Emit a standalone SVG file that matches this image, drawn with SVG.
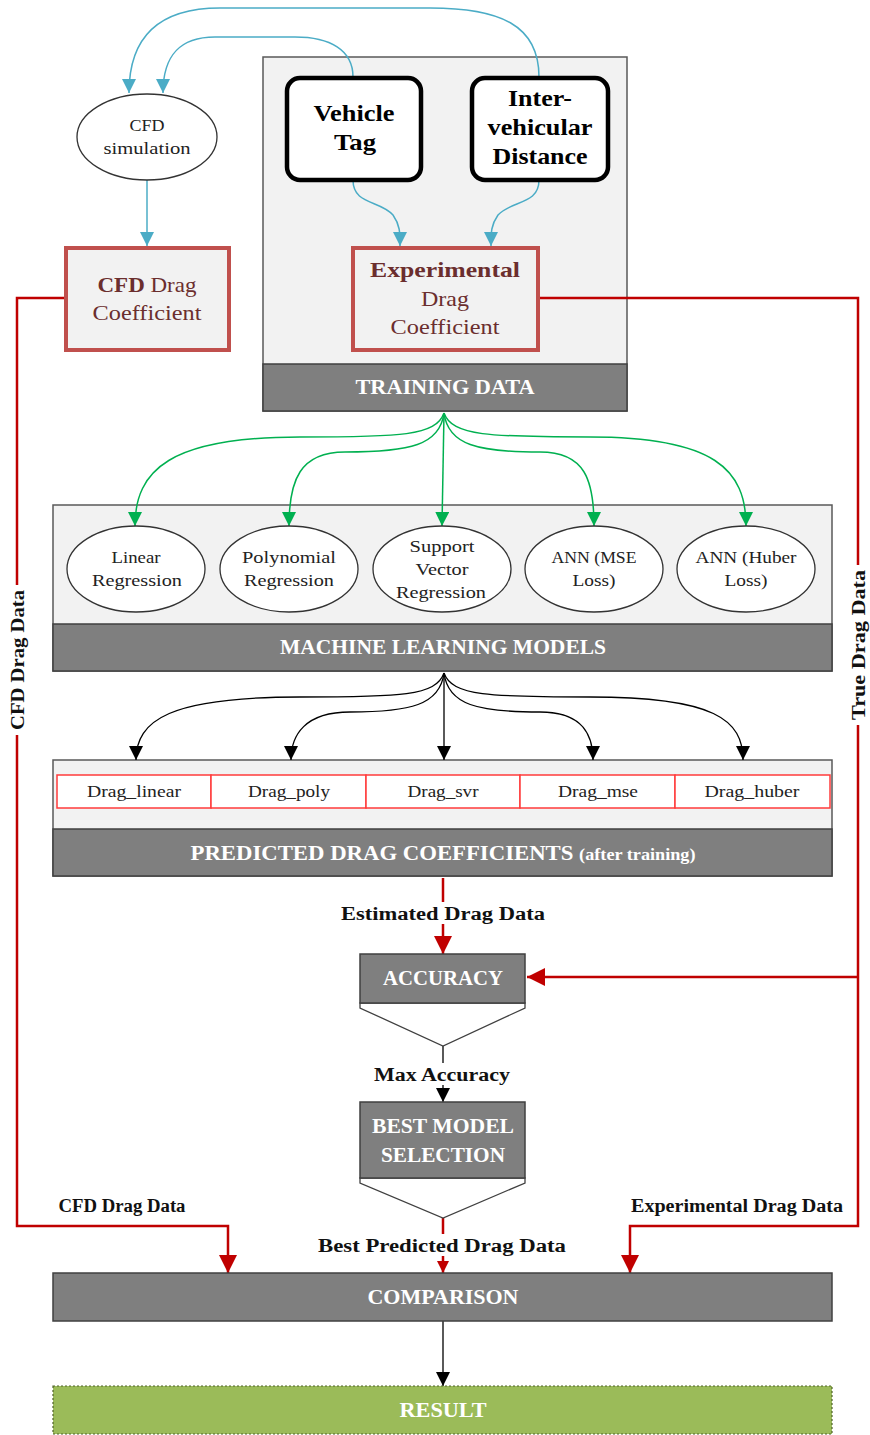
<svg xmlns="http://www.w3.org/2000/svg" width="870" height="1435" viewBox="0 0 870 1435">
<style>
.t{font-family:"Liberation Serif","DejaVu Serif",serif}
.hdr{font-family:"Liberation Serif",serif;font-weight:bold;fill:#fff;font-size:20px;text-anchor:middle}
.lbl{font-family:"Liberation Serif",serif;font-weight:bold;fill:#111;font-size:18px;text-anchor:middle}
.ell{fill:#fff;stroke:#333;stroke-width:1.3}
.eltx{font-family:"Liberation Serif",serif;font-size:17px;fill:#222;text-anchor:middle}
.panel{fill:#f2f2f2;stroke:#595959;stroke-width:1.5}
.band{fill:#7f7f7f;stroke:#404040;stroke-width:1.5}
.redbox{fill:#f2f2f2;stroke:#c0504d;stroke-width:4}
.blackbox{fill:#fff;stroke:#000;stroke-width:4.5}
.blue{fill:none;stroke:#4bacc6;stroke-width:1.5}
.green{fill:none;stroke:#00b050;stroke-width:1.5}
.blk{fill:none;stroke:#000;stroke-width:1.3}
.red{fill:none;stroke:#c00000;stroke-width:2.5}
.cell{fill:#fff;stroke:#ff3b3b;stroke-width:1.5}
.celltx{font-family:"Liberation Serif",serif;font-size:17px;fill:#222;text-anchor:middle}
</style>
<defs>
<marker id="ab" markerUnits="userSpaceOnUse" markerWidth="16" markerHeight="16" refX="14" refY="7" orient="auto"><path d="M0,0 L14,7 L0,14 Z" fill="#4bacc6"/></marker>
<marker id="ag" markerUnits="userSpaceOnUse" markerWidth="16" markerHeight="16" refX="14" refY="7" orient="auto"><path d="M0,0 L14,7 L0,14 Z" fill="#00b050"/></marker>
<marker id="ak" markerUnits="userSpaceOnUse" markerWidth="16" markerHeight="16" refX="14" refY="7" orient="auto"><path d="M0,0 L14,7 L0,14 Z" fill="#000"/></marker>
<marker id="ar" markerUnits="userSpaceOnUse" markerWidth="20" markerHeight="20" refX="18" refY="9" orient="auto"><path d="M0,0 L18,9 L0,18 Z" fill="#c00000"/></marker>
<marker id="ars" markerUnits="userSpaceOnUse" markerWidth="14" markerHeight="14" refX="12" refY="6" orient="auto"><path d="M0,0 L12,6 L0,12 Z" fill="#c00000"/></marker>
</defs>

<g id="training-data">
<rect class="panel" x="263" y="57" width="364" height="354"/>
<rect class="band" x="263" y="364" width="364" height="47"/>
<text class="hdr" x="445" y="394" textLength="179" lengthAdjust="spacingAndGlyphs">TRAINING DATA</text>
</g>

<g id="ml-models">
<rect class="panel" x="53" y="505" width="779" height="166"/>
<rect class="band" x="53" y="624" width="779" height="47"/>
<text class="hdr" x="443" y="654" textLength="326" lengthAdjust="spacingAndGlyphs">MACHINE LEARNING MODELS</text>
</g>

<g id="predicted">
<rect class="panel" x="53" y="760" width="779" height="116"/>
<rect class="band" x="53" y="829" width="779" height="47"/>
<text class="hdr" x="443" y="860" textLength="505" lengthAdjust="spacingAndGlyphs">PREDICTED DRAG COEFFICIENTS <tspan font-size="16">(after training)</tspan></text>
</g>

<g id="connectors">
<path class="blue" d="M539,77 C539,25 500,8 430,8 L220,8 C160,8 129,35 129,93" marker-end="url(#ab)"/>
<path class="blue" d="M353,77 C353,50 330,37 295,37 L215,37 C180,37 163,55 163,93" marker-end="url(#ab)"/>
<path class="blue" d="M147,180 L147,246" marker-end="url(#ab)"/>
<path class="blue" d="M353,180 C353,205 380,200 393,215 C400,225 400,232 400,246" marker-end="url(#ab)"/>
<path class="blue" d="M539,180 C539,205 512,200 498,215 C491,225 491,232 491,246" marker-end="url(#ab)"/>

<path class="green" d="M444,413 C436,436 400,437 300,437 C170,437 135,470 135,526" marker-end="url(#ag)"/>
<path class="green" d="M444,413 C440,445 410,452 345,452 C300,452 289,480 289,526" marker-end="url(#ag)"/>
<path class="green" d="M444,413 L442,526" marker-end="url(#ag)"/>
<path class="green" d="M444,413 C448,445 478,452 540,452 C585,452 594,480 594,526" marker-end="url(#ag)"/>
<path class="green" d="M444,413 C452,436 490,437 590,437 C715,437 746,470 746,526" marker-end="url(#ag)"/>

<path class="blk" d="M444,673 C436,696 400,697 300,697 C170,697 136,720 136,760" marker-end="url(#ak)"/>
<path class="blk" d="M444,673 C440,705 410,712 350,712 C305,712 291,735 291,760" marker-end="url(#ak)"/>
<path class="blk" d="M444,673 L444,760" marker-end="url(#ak)"/>
<path class="blk" d="M444,673 C448,705 478,712 540,712 C583,712 593,735 593,760" marker-end="url(#ak)"/>
<path class="blk" d="M444,673 C452,696 490,697 590,697 C715,697 743,720 743,760" marker-end="url(#ak)"/>

<path class="red" d="M443,878 L443,954" marker-end="url(#ar)"/>
<path class="red" d="M66,298 L17,298 L17,1226 L228,1226 L228,1273" marker-end="url(#ar)"/>
<path class="red" d="M538,298 L858,298 L858,1226 L630,1226 L630,1273" marker-end="url(#ar)"/>
<path class="red" d="M858,977 L527,977" marker-end="url(#ar)"/>
<path class="red" d="M443,1218 L443,1273" marker-end="url(#ars)"/>
<path class="blk" d="M443,1046 L443,1102" marker-end="url(#ak)"/>
<path class="blk" d="M443,1321 L443,1386" marker-end="url(#ak)"/>

<rect x="338" y="902" width="210" height="22" fill="#fff"/>
<text class="lbl" x="443" y="920" textLength="204" lengthAdjust="spacingAndGlyphs">Estimated Drag Data</text>
<rect x="372" y="1063" width="142" height="22" fill="#fff"/>
<text class="lbl" x="442" y="1081" textLength="136" lengthAdjust="spacingAndGlyphs">Max Accuracy</text>
<rect x="314" y="1234" width="256" height="22" fill="#fff"/>
<text class="lbl" x="442" y="1252" textLength="248" lengthAdjust="spacingAndGlyphs">Best Predicted Drag Data</text>
<text class="lbl" x="122" y="1212" font-size="17" textLength="127" lengthAdjust="spacingAndGlyphs">CFD Drag Data</text>
<text class="lbl" x="737" y="1212" font-size="17" textLength="212" lengthAdjust="spacingAndGlyphs">Experimental Drag Data</text>
<rect x="8" y="585" width="20" height="150" fill="#fff"/>
<text class="lbl" transform="translate(24,660) rotate(-90)" font-size="17" textLength="140" lengthAdjust="spacingAndGlyphs">CFD Drag Data</text>
<rect x="848" y="565" width="20" height="160" fill="#fff"/>
<text class="lbl" transform="translate(865,645) rotate(-90)" font-size="17" textLength="150" lengthAdjust="spacingAndGlyphs">True Drag Data</text>
</g>

<g id="cfd-simulation">
<ellipse class="ell" cx="147" cy="137" rx="70" ry="43"/>
<text class="eltx" x="147" y="131" textLength="35" lengthAdjust="spacingAndGlyphs">CFD</text>
<text class="eltx" x="147" y="154" textLength="87" lengthAdjust="spacingAndGlyphs">simulation</text>
</g>

<g id="cfd-drag-coefficient">
<rect class="redbox" x="66" y="248" width="163" height="102"/>
<text class="t" x="147" y="292" font-size="22" fill="#6b2e2e" text-anchor="middle" textLength="99" lengthAdjust="spacingAndGlyphs"><tspan font-weight="bold">CFD</tspan> Drag</text>
<text class="t" x="147" y="320" font-size="22" fill="#6b2e2e" text-anchor="middle" textLength="109" lengthAdjust="spacingAndGlyphs">Coefficient</text>
</g>

<g id="vehicle-tag">
<rect class="blackbox" x="287" y="78" width="134" height="102" rx="13"/>
<text class="t" x="354" y="121" font-size="24" font-weight="bold" text-anchor="middle" fill="#000" textLength="81" lengthAdjust="spacingAndGlyphs">Vehicle</text>
<text class="t" x="355" y="150" font-size="24" font-weight="bold" text-anchor="middle" fill="#000" textLength="42" lengthAdjust="spacingAndGlyphs">Tag</text>
</g>

<g id="inter-vehicular-distance">
<rect class="blackbox" x="472" y="78" width="136" height="102" rx="13"/>
<text class="t" x="540" y="106" font-size="24" font-weight="bold" text-anchor="middle" fill="#000" textLength="64" lengthAdjust="spacingAndGlyphs">Inter-</text>
<text class="t" x="540" y="135" font-size="24" font-weight="bold" text-anchor="middle" fill="#000" textLength="105" lengthAdjust="spacingAndGlyphs">vehicular</text>
<text class="t" x="540" y="164" font-size="24" font-weight="bold" text-anchor="middle" fill="#000" textLength="95" lengthAdjust="spacingAndGlyphs">Distance</text>
</g>

<g id="experimental-drag-coefficient">
<rect class="redbox" x="353" y="248" width="185" height="102"/>
<text class="t" x="445" y="277" font-size="22" font-weight="bold" fill="#6b2e2e" text-anchor="middle" textLength="150" lengthAdjust="spacingAndGlyphs">Experimental</text>
<text class="t" x="445" y="306" font-size="22" fill="#6b2e2e" text-anchor="middle" textLength="48" lengthAdjust="spacingAndGlyphs">Drag</text>
<text class="t" x="445" y="334" font-size="22" fill="#6b2e2e" text-anchor="middle" textLength="109" lengthAdjust="spacingAndGlyphs">Coefficient</text>
</g>

<g id="linear-regression">
<ellipse class="ell" cx="136" cy="569" rx="69" ry="43"/>
<text class="eltx" x="136" y="563" textLength="49" lengthAdjust="spacingAndGlyphs">Linear</text>
<text class="eltx" x="137" y="586" textLength="90" lengthAdjust="spacingAndGlyphs">Regression</text>
</g>
<g id="polynomial-regression">
<ellipse class="ell" cx="289" cy="569" rx="69" ry="43"/>
<text class="eltx" x="289" y="563" textLength="94" lengthAdjust="spacingAndGlyphs">Polynomial</text>
<text class="eltx" x="289" y="586" textLength="90" lengthAdjust="spacingAndGlyphs">Regression</text>
</g>
<g id="support-vector-regression">
<ellipse class="ell" cx="442" cy="569" rx="69" ry="43"/>
<text class="eltx" x="442" y="552" textLength="65" lengthAdjust="spacingAndGlyphs">Support</text>
<text class="eltx" x="442" y="575" textLength="53" lengthAdjust="spacingAndGlyphs">Vector</text>
<text class="eltx" x="441" y="598" textLength="90" lengthAdjust="spacingAndGlyphs">Regression</text>
</g>
<g id="ann-mse">
<ellipse class="ell" cx="594" cy="569" rx="69" ry="43"/>
<text class="eltx" x="594" y="563" textLength="85" lengthAdjust="spacingAndGlyphs">ANN (MSE</text>
<text class="eltx" x="594" y="586" textLength="43" lengthAdjust="spacingAndGlyphs">Loss)</text>
</g>
<g id="ann-huber">
<ellipse class="ell" cx="746" cy="569" rx="69" ry="43"/>
<text class="eltx" x="746" y="563" textLength="101" lengthAdjust="spacingAndGlyphs">ANN (Huber</text>
<text class="eltx" x="746" y="586" textLength="43" lengthAdjust="spacingAndGlyphs">Loss)</text>
</g>

<g id="drag-cells">
<rect class="cell" x="57" y="775" width="154" height="33"/>
<rect class="cell" x="211" y="775" width="155" height="33"/>
<rect class="cell" x="366" y="775" width="154" height="33"/>
<rect class="cell" x="520" y="775" width="155" height="33"/>
<rect class="cell" x="675" y="775" width="155" height="33"/>
<text class="celltx" x="134" y="797" textLength="94" lengthAdjust="spacingAndGlyphs">Drag_linear</text>
<text class="celltx" x="289" y="797" textLength="82" lengthAdjust="spacingAndGlyphs">Drag_poly</text>
<text class="celltx" x="443" y="797" textLength="71" lengthAdjust="spacingAndGlyphs">Drag_svr</text>
<text class="celltx" x="598" y="797" textLength="80" lengthAdjust="spacingAndGlyphs">Drag_mse</text>
<text class="celltx" x="752" y="797" textLength="95" lengthAdjust="spacingAndGlyphs">Drag_huber</text>
</g>

<g id="accuracy">
<path d="M360,1003 L525,1003 L525,1008 L443,1046 L360,1008 Z" fill="#fff" stroke="#404040" stroke-width="1.3"/>
<rect class="band" x="360" y="954" width="165" height="49" stroke="#222"/>
<text class="hdr" x="443" y="985" textLength="120" lengthAdjust="spacingAndGlyphs">ACCURACY</text>
</g>

<g id="best-model-selection">
<path d="M360,1178 L525,1178 L525,1183 L443,1218 L360,1183 Z" fill="#fff" stroke="#404040" stroke-width="1.3"/>
<rect class="band" x="360" y="1102" width="165" height="76" stroke="#222"/>
<text class="hdr" x="443" y="1133" textLength="142" lengthAdjust="spacingAndGlyphs">BEST MODEL</text>
<text class="hdr" x="443" y="1162" textLength="124" lengthAdjust="spacingAndGlyphs">SELECTION</text>
</g>

<g id="comparison">
<rect class="band" x="53" y="1273" width="779" height="48" stroke="#222"/>
<text class="hdr" x="443" y="1304" textLength="151" lengthAdjust="spacingAndGlyphs">COMPARISON</text>
</g>

<g id="result">
<rect x="53" y="1386" width="779" height="48" fill="#9bbb59" stroke="#4f6228" stroke-width="1.2" stroke-dasharray="2,2"/>
<text class="hdr" x="443" y="1417" textLength="87" lengthAdjust="spacingAndGlyphs">RESULT</text>
</g>
</svg>
